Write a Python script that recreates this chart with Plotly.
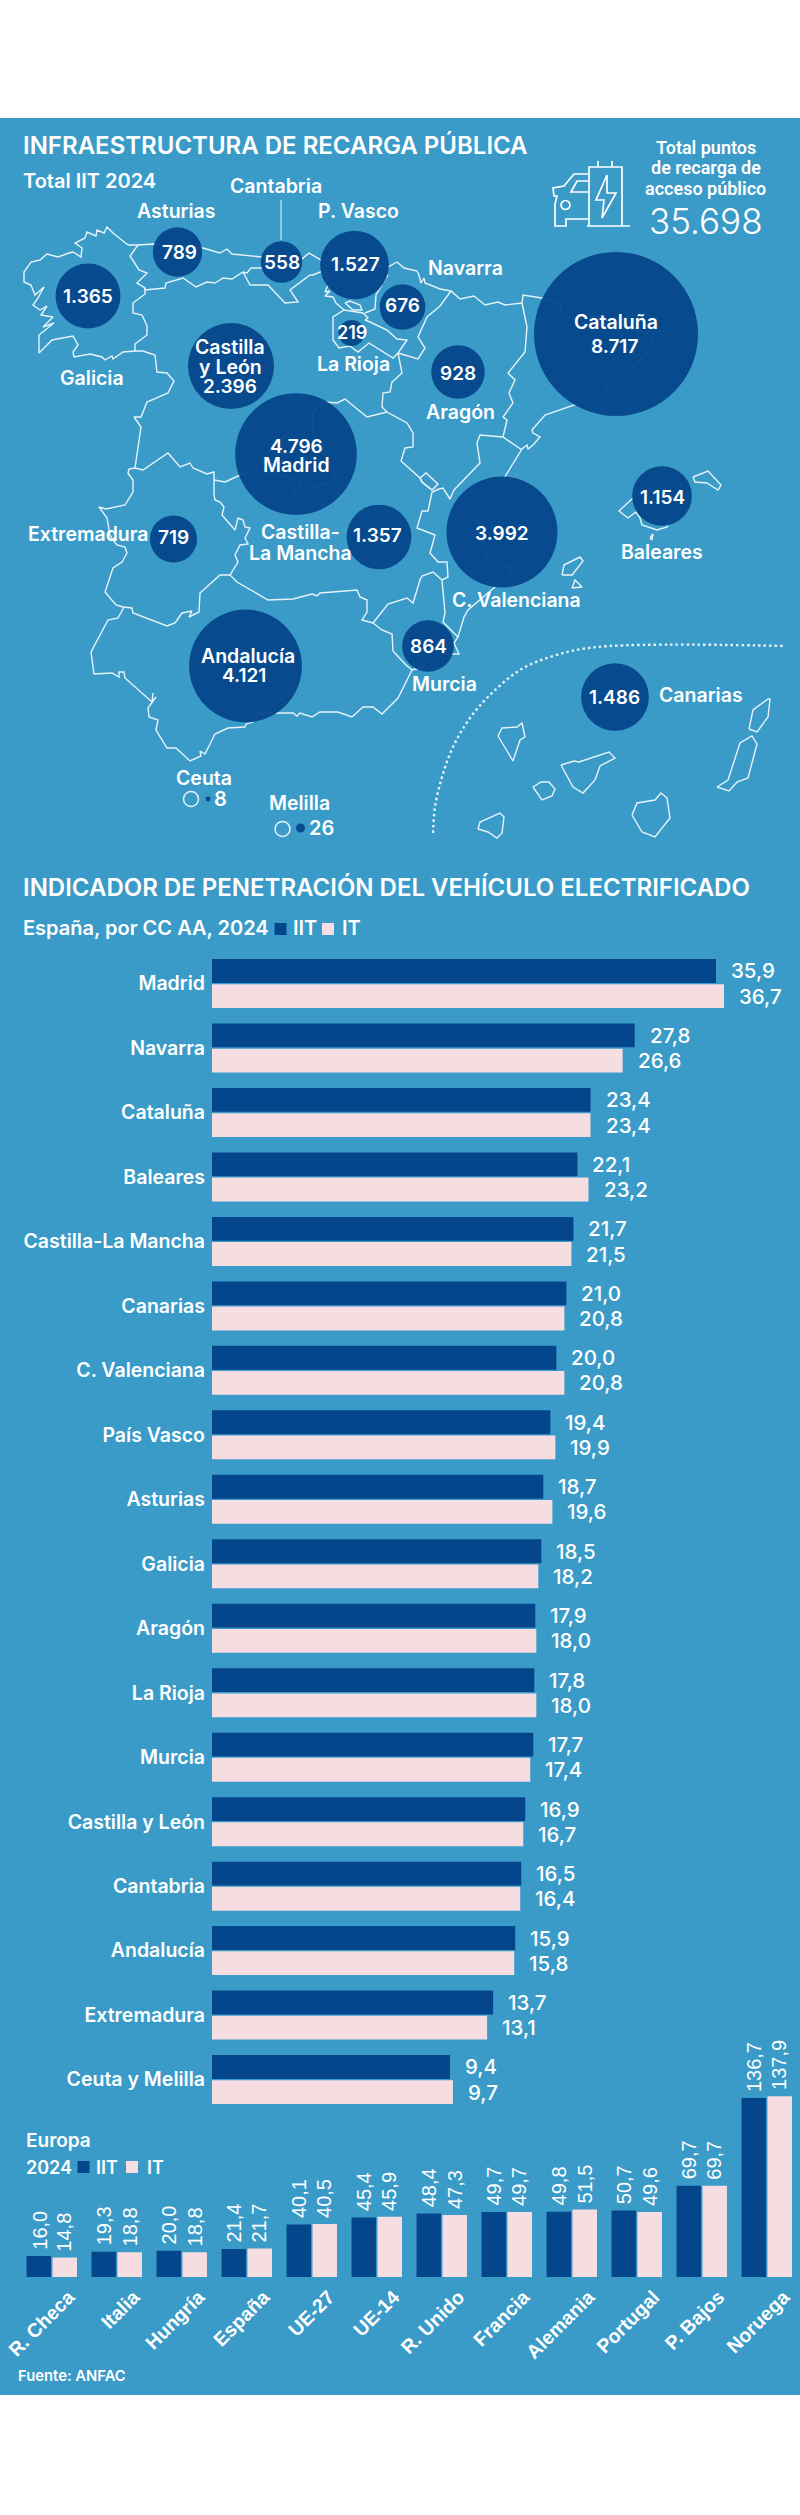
import plotly.graph_objects as go

W, H = 800, 2515

# colours
panel_blue = '#3a9bc8'
dark_blue = '#04468b'
pink = '#f5dde2'
line_white = '#e6f3f9'
FONT = 'Inter'
FONT_EU = 'Liberation Sans'

# bubbles on the map
regions = ['Galicia', 'Asturias', 'Cantabria', 'P. Vasco', 'Navarra', 'La Rioja', 'Cataluña', 'Aragón',
           'Castilla y León', 'Madrid', 'Extremadura', 'Castilla-La Mancha', 'C. Valenciana', 'Baleares',
           'Andalucía', 'Murcia', 'Canarias', 'Ceuta', 'Melilla']
points = [1365, 789, 558, 1527, 676, 219, 8717, 928, 2396, 4796, 719, 1357, 3992, 1154, 4121, 864, 1486, 8, 26]
map_x = [88, 177.5, 281.5, 354.5, 402.5, 351.5, 616, 458, 231, 296, 173.5, 379, 502, 662, 245.5, 428, 615, 208, 300.5]
map_y = [296, 252, 262, 265, 307, 333, 334, 372, 366, 454, 539, 537, 532, 496, 666, 646, 697, 799, 828]

# outlines
galicia = [(128, 245), (113, 233), (107, 227), (104, 233), (97, 230), (96, 236), (87, 232), (85, 238), (75, 243),
           (82, 248), (81, 257), (73, 252), (69, 253), (58, 257), (47, 254), (40, 260), (31, 262), (24, 272),
           (24, 282), (31, 285), (35, 295), (44, 287), (38, 298), (33, 305), (40, 310), (47, 306), (41, 315),
           (53, 317), (43, 327), (54, 323), (39, 335), (39, 353), (52, 340), (73, 336), (78, 345), (73, 352),
           (74, 357), (90, 354), (102, 357), (105, 360), (112, 356), (113, 359), (123, 352), (135, 351), (135, 344),
           (147, 335), (147, 326), (142, 315), (133, 313), (133, 303), (145, 294), (145, 288), (137, 283),
           (147, 273), (139, 270), (130, 256), (138, 245), (128, 245)]
north_east_coast = [(138, 245), (153, 244), (203, 248), (220, 253), (227, 249), (232, 254), (262, 257), (302, 259),
                    (309, 253), (321, 260), (388, 267), (397, 262), (404, 268), (417, 271), (419, 275), (421, 283),
                    (424, 278), (425, 283), (440, 289), (451, 291), (460, 299), (474, 296), (485, 305), (498, 302),
                    (505, 305), (522, 303), (523, 295), (542, 298), (560, 303), (563, 319), (573, 318), (590, 315),
                    (650, 335), (655, 347), (637, 363), (610, 382), (603, 395), (573, 405), (545, 415), (532, 430),
                    (533, 433), (540, 437), (533, 445), (528, 449), (527, 445), (522, 449), (506, 475), (478, 523),
                    (488, 558), (510, 568), (510, 575), (495, 587), (468, 610), (464, 617), (458, 637), (454, 643),
                    (459, 654), (440, 654), (420, 668), (412, 670)]
south_coast = [(412, 670), (398, 698), (382, 714), (373, 707), (363, 707), (352, 717), (338, 712), (320, 712),
               (312, 717), (300, 713), (297, 716), (293, 713), (277, 713), (258, 713), (253, 722), (246, 724),
               (245, 727), (228, 728), (215, 734), (205, 754), (200, 751), (201, 756), (190, 761), (176, 748),
               (167, 748), (156, 730), (158, 720), (149, 717), (148, 708), (156, 697), (152, 702), (153, 693),
               (152, 702), (125, 678), (124, 672), (119, 672), (119, 677), (112, 673), (94, 674), (91, 652),
               (108, 620), (118, 618), (124, 607)]
extremadura = [(135, 468), (129, 469), (128, 473), (133, 480), (133, 492), (125, 505), (106, 509), (99, 507),
               (107, 518), (110, 535), (113, 540), (117, 545), (125, 547), (127, 553), (122, 562), (113, 568),
               (105, 592), (116, 605), (123, 607), (132, 608), (133, 613), (167, 626), (175, 623), (182, 613),
               (192, 611), (189, 617), (199, 612), (200, 593), (220, 575), (230, 575), (238, 562), (235, 555),
               (240, 545), (248, 544), (245, 538), (250, 528), (245, 527), (243, 520), (238, 518), (235, 530),
               (222, 515), (224, 507), (220, 502), (215, 500), (214, 495), (214, 472), (207, 474), (193, 468),
               (190, 463), (180, 467), (168, 453), (153, 463), (143, 470), (135, 468)]
portugal_north = [(135, 351), (143, 351), (155, 355), (157, 372), (167, 373), (174, 381), (168, 393), (147, 402),
                  (141, 417), (134, 417), (141, 427), (136, 460), (135, 468)]
asturias_south = [(145, 288), (145, 290), (165, 288), (166, 283), (183, 278), (196, 287), (207, 282), (215, 283),
                  (223, 278), (232, 279), (243, 272), (247, 273), (251, 268), (262, 268)]
cantabria_south = [(243, 272), (250, 285), (268, 285), (285, 303), (298, 302), (290, 290), (310, 275), (313, 275),
                   (325, 270), (328, 285), (325, 292), (330, 291), (325, 296), (333, 297), (336, 303), (344, 310)]
basque_east = [(388, 275), (376, 295), (375, 309), (365, 313)]
rioja = [(344, 310), (333, 317), (333, 340), (339, 348), (350, 346), (358, 352), (369, 343), (393, 358), (398, 353),
         (407, 340), (397, 339), (387, 330), (370, 322), (365, 320), (368, 318), (363, 313), (344, 310)]
trevino = [(345, 303), (350, 301), (360, 305), (362, 310), (353, 310), (345, 303)]
navarra_east = [(451, 291), (440, 306), (427, 317), (418, 337), (425, 348), (418, 359), (398, 353)]
aragon_west = [(398, 353), (402, 373), (392, 382), (390, 392), (383, 393), (382, 407), (387, 412), (407, 423),
               (413, 433), (413, 447), (405, 448), (401, 461), (420, 478), (422, 482), (432, 490)]
castilla_east = [(325, 402), (337, 403), (345, 399), (367, 417), (387, 412)]
madrid = [(325, 402), (287, 433), (250, 472), (262, 472), (280, 475), (302, 482), (293, 495), (297, 497), (313, 487),
          (333, 482), (335, 473), (313, 433), (313, 413), (325, 402)]
castilla_link = [(214, 480), (225, 482), (238, 476), (250, 472)]
mancha_south = [(230, 575), (237, 582), (268, 600), (293, 599), (312, 594), (317, 596), (320, 593), (357, 590),
                (360, 597), (367, 600), (367, 612), (362, 620), (373, 623)]
murcia_west = [(373, 623), (382, 630), (392, 634), (393, 651), (405, 664), (412, 670)]
murcia_north = [(373, 623), (388, 604), (407, 598), (413, 603), (420, 580), (422, 576), (433, 572), (442, 580)]
murcia_east = [(442, 580), (445, 613), (443, 622), (458, 637)]
valencia_west = [(442, 580), (448, 577), (447, 562), (438, 562), (430, 553), (435, 535), (417, 528), (422, 511),
                 (428, 511), (432, 492), (439, 489), (443, 488), (450, 499), (454, 490), (480, 463), (477, 443),
                 (480, 435), (503, 437), (522, 450)]
ademuz = [(420, 478), (426, 473), (438, 484), (432, 490), (422, 482), (420, 478)]
cataluna_west = [(522, 303), (527, 327), (525, 352), (508, 373), (515, 380), (509, 393), (513, 403), (503, 417),
                 (507, 420), (503, 437)]
mallorca = [(628, 518), (619, 511), (633, 498), (660, 483), (677, 503), (667, 527), (657, 530), (642, 525),
            (640, 518), (636, 512), (628, 518)]
menorca = [(693, 477), (708, 471), (721, 485), (718, 490), (707, 483), (695, 482), (693, 477)]
ibiza = [(562, 575), (564, 565), (570, 562), (580, 557), (583, 561), (575, 572), (572, 575), (562, 575)]
formentera = [(572, 588), (575, 580), (582, 587), (572, 588)]
cabrera = [(650, 538), (653, 534), (652, 540), (650, 538)]
la_palma = [(498, 736), (502, 728), (517, 727), (522, 723), (525, 737), (520, 740), (513, 761), (498, 736)]
tenerife = [(561, 765), (574, 761), (579, 762), (595, 757), (609, 752), (615, 758), (600, 766), (595, 780),
            (583, 793), (573, 787), (561, 765)]
gomera = [(533, 787), (541, 782), (549, 782), (555, 789), (552, 796), (542, 800), (533, 787)]
hierro = [(478, 829), (480, 822), (500, 813), (504, 817), (502, 833), (497, 838), (488, 832), (478, 829)]
gran_canaria = [(632, 815), (637, 803), (655, 800), (661, 793), (667, 798), (670, 818), (655, 837), (642, 832),
                (632, 815)]
fuerteventura = [(717, 787), (728, 780), (740, 743), (752, 736), (757, 744), (748, 778), (737, 782), (729, 791),
                 (717, 787)]
lanzarote = [(749, 729), (753, 710), (768, 699), (770, 699), (768, 717), (757, 732), (749, 729)]
canary_arc = [(433, 833), (435, 807), (442, 777), (453, 747), (470, 718), (492, 693), (520, 670), (553, 656),
              (597, 647), (785, 646)]
outlines = [galicia, north_east_coast, south_coast, extremadura, portugal_north, asturias_south, cantabria_south,
            basque_east, rioja, trevino, navarra_east, aragon_west, castilla_east, madrid, castilla_link, mancha_south,
            murcia_west, murcia_north, murcia_east, valencia_west, ademuz, cataluna_west, mallorca, menorca, ibiza,
            formentera, cabrera, la_palma, tenerife, gomera, hierro, gran_canaria, fuerteventura, lanzarote]

# charger icon
icon_lines = [[(589, 226), (589, 167), (622, 167), (622, 226)], [(587, 226), (630, 226)], [(598, 161), (598, 167)],
              [(612, 161), (612, 167)], [(607, 175), (596, 200), (604, 200), (602, 218), (616, 193), (607, 193), (607, 175)],
              [(589, 174), (574, 174), (564, 186), (553, 188), (554, 196), (557, 196), (555, 204), (555, 226), (566, 226),
               (566, 219), (589, 219)], [(589, 181), (577, 181), (571, 192), (589, 192)]]

# penetration indicator, Spain
spain_labels = ['Madrid', 'Navarra', 'Cataluña', 'Baleares', 'Castilla-La Mancha', 'Canarias', 'C. Valenciana',
                'País Vasco', 'Asturias', 'Galicia', 'Aragón', 'La Rioja', 'Murcia', 'Castilla y León', 'Cantabria',
                'Andalucía', 'Extremadura', 'Ceuta y Melilla']
spain_iit = [35.9, 27.8, 23.4, 22.1, 21.7, 21.0, 20.0, 19.4, 18.7, 18.5, 17.9, 17.8, 17.7, 16.9, 16.5, 15.9, 13.7, 9.4]
spain_it = [36.7, 26.6, 23.4, 23.2, 21.5, 20.8, 20.8, 19.9, 19.6, 18.2, 18.0, 18.0, 17.4, 16.7, 16.4, 15.8, 13.1, 9.7]
spain_start = -14.3  # the bars do not start at zero in the original

# penetration indicator, Europe
europe_labels = ['R. Checa', 'Italia', 'Hungría', 'España', 'UE-27', 'UE-14', 'R. Unido', 'Francia', 'Alemania',
                 'Portugal', 'P. Bajos', 'Noruega']
europe_iit = [16.0, 19.3, 20.0, 21.4, 40.1, 45.4, 48.4, 49.7, 49.8, 50.7, 69.7, 136.7]
europe_it = [14.8, 18.8, 18.8, 21.7, 40.5, 45.9, 47.3, 49.7, 51.5, 49.6, 69.7, 137.9]

# free text: text, x, y, size
map_texts = [('Asturias', 176.5, 211, 19.5), ('Cantabria', 275.5, 186, 19.5), ('P. Vasco', 358.5, 211, 19.5),
             ('Navarra', 465, 268, 19.5), ('Galicia', 92, 378, 19.5), ('La Rioja', 353.5, 364, 19.5),
             ('Aragón', 460.5, 412, 19.5), ('Extremadura', 88.5, 534, 19.5), ('Castilla-', 300, 532, 19.5),
             ('La Mancha', 300, 553, 19.5), ('C. Valenciana', 516, 600, 19.5), ('Baleares', 662, 552, 19.5),
             ('Murcia', 444, 684, 19.5), ('Canarias', 701, 695, 19.5), ('Ceuta', 204, 778, 19.5), ('Melilla', 299.5, 803, 19.5),
             ('1.365', 88, 296, 19), ('789', 179, 252, 19), ('558', 281.5, 262, 19), ('1.527', 355.5, 264, 19), ('676', 402.5, 305, 19),
             ('219', 351.5, 332, 18), ('Cataluña', 616, 322, 19.5), ('8.717', 614, 346, 19), ('928', 458, 373, 19),
             ('Castilla', 230, 347, 19.5), ('y León', 230, 367, 19.5), ('2.396', 230, 386, 19), ('4.796', 296, 446, 19),
             ('Madrid', 296, 465, 19.5), ('719', 173.5, 537, 19), ('1.357', 377, 535, 19), ('3.992', 502, 533, 19),
             ('1.154', 662, 497, 19), ('Andalucía', 247.5, 656, 19.5), ('4.121', 244, 675, 19), ('864', 428, 646, 19),
             ('1.486', 614, 697, 19), ('8', 220.5, 799, 20), ('26', 321, 828, 20)]
box_texts = [('Total puntos', 147), ('de recarga de', 167), ('acceso público', 188)]
left_texts = [('INFRAESTRUCTURA DE RECARGA PÚBLICA', 21, 145, 24), ('Total IIT 2024', 21, 181, 20),
              ('INDICADOR DE PENETRACIÓN DEL VEHÍCULO ELECTRIFICADO', 21, 887, 24),
              ('España, por CC AA, 2024', 21, 928, 20), ('IIT', 291, 928, 20), ('IT', 340, 928, 20),
              ('Europa', 24, 2140, 19), ('2024', 24, 2167, 18), ('IIT', 94, 2167, 18), ('IT', 145, 2167, 18),
              ('Fuente: ANFAC', 16, 2376, 14.8)]


def comma(v):
    return f'{v:.1f}'.replace('.', ',')


def split_xy(paths):
    xs, ys = [], []
    for path in paths:
        xs += [p[0] for p in path] + [None]
        ys += [p[1] for p in path] + [None]
    return xs, ys


fig = go.Figure()

# map
xs, ys = split_xy(outlines)
fig.add_trace(go.Scatter(x=xs, y=ys, mode='lines', line=dict(color=line_white, width=1.4), hoverinfo='skip'))
xs, ys = split_xy([canary_arc])
fig.add_trace(go.Scatter(x=xs, y=ys, mode='lines', hoverinfo='skip',
                         line=dict(color=line_white, width=2.4, dash='2.5px,3px', shape='spline')))
xs, ys = split_xy([[(281, 200), (281, 240)]])
fig.add_trace(go.Scatter(x=xs, y=ys, mode='lines', line=dict(color=line_white, width=1), hoverinfo='skip'))
xs, ys = split_xy(icon_lines)
fig.add_trace(go.Scatter(x=xs, y=ys, mode='lines', line=dict(color='white', width=1.7), hoverinfo='skip'))
fig.add_trace(go.Scatter(x=[565.5], y=[205], mode='markers', hoverinfo='skip',
                         marker=dict(symbol='circle-open', size=9, color='white', line=dict(color='white', width=1.7))))
fig.add_trace(go.Scatter(x=[191, 282.5], y=[799, 829], mode='markers', hoverinfo='skip',
                         marker=dict(symbol='circle-open', size=15, color=line_white, line=dict(color=line_white, width=1.5))))
fig.add_trace(go.Scatter(x=map_x, y=map_y, mode='markers', text=regions, customdata=points,
                         hovertemplate='%{text}: %{customdata}<extra></extra>',
                         marker=dict(size=points, sizemode='area', sizeref=2 * 8717 / 164 ** 2, sizemin=1,
                                     color=dark_blue, opacity=0.95, line=dict(width=0))))

# legend squares
fig.add_trace(go.Scatter(x=[280.5, 328, 83.5, 132], y=[929, 929, 2167, 2167], mode='markers', hoverinfo='skip',
                         marker=dict(symbol='square', size=12, color=[dark_blue, pink, dark_blue, pink])))

# Spain bars
fig.add_trace(go.Bar(y=spain_labels, x=[v - spain_start for v in spain_iit], base=spain_start, orientation='h',
                     width=0.37, offset=-0.38, marker=dict(color=dark_blue, line=dict(width=0)), name='IIT',
                     xaxis='x2', yaxis='y2'))
fig.add_trace(go.Bar(y=spain_labels, x=[v - spain_start for v in spain_it], base=spain_start, orientation='h',
                     width=0.37, offset=0.01, marker=dict(color=pink, line=dict(width=0)), name='IT',
                     xaxis='x2', yaxis='y2'))

# Europe bars
fig.add_trace(go.Bar(x=europe_labels, y=europe_iit, width=0.377, offset=-0.388,
                     marker=dict(color=dark_blue, line=dict(width=0)), name='IIT', xaxis='x3', yaxis='y3'))
fig.add_trace(go.Bar(x=europe_labels, y=europe_it, width=0.377, offset=0.011,
                     marker=dict(color=pink, line=dict(width=0)), name='IT', xaxis='x3', yaxis='y3'))

notes = []
for text, x, y, size in map_texts:
    notes.append(dict(text=text, x=x, y=y, xref='x', yref='y', xanchor='center', yanchor='middle', showarrow=False,
                      font=dict(family=FONT, size=size, color='white', weight=600)))
for text, y in box_texts:
    notes.append(dict(text=text, x=705.5, y=y, xref='x', yref='y', xanchor='center', yanchor='middle', showarrow=False,
                      font=dict(family='Roboto', size=18, color='white', weight=600)))
for text, x, y, size in left_texts:
    notes.append(dict(text=text, x=x, y=y, xref='x', yref='y', xanchor='left', yanchor='middle', showarrow=False,
                      font=dict(family=FONT, size=size, color='white', weight=600)))
notes.append(dict(text='35.698', x=705.5, y=221, xref='x', yref='y', showarrow=False,
                  font=dict(family=FONT, size=35, color='white', weight=300)))
for name, a, b in zip(spain_labels, spain_iit, spain_it):
    for v, shift in ((a, 12.6), (b, -12.6)):
        notes.append(dict(text=comma(v), x=v, y=name, xref='x2', yref='y2', xanchor='left', yanchor='middle',
                          xshift=13, yshift=shift, showarrow=False,
                          font=dict(family=FONT, size=20.5, color='white', weight=500)))
for i, name in enumerate(europe_labels):
    for v, shift in ((europe_iit[i], -12.6), (europe_it[i], 12.8)):
        notes.append(dict(text=comma(v), x=name, y=v, xref='x3', yref='y3', xanchor='center', yanchor='bottom',
                          xshift=shift, yshift=4, textangle=-90, showarrow=False,
                          font=dict(family=FONT_EU, size=20, color='white')))

fig.update_layout(
    width=W, height=H, margin=dict(l=0, r=0, t=0, b=0, autoexpand=False), showlegend=False,
    paper_bgcolor='white', plot_bgcolor='rgba(0,0,0,0)',
    shapes=[dict(type='rect', xref='paper', yref='y', x0=0, x1=1, y0=118, y1=2395,
                 fillcolor=panel_blue, line=dict(width=0), layer='below')],
    annotations=notes,
    xaxis=dict(domain=[0, 1], range=[0, W], visible=False, fixedrange=True, automargin=False),
    yaxis=dict(domain=[0, 1], range=[H, 0], visible=False, fixedrange=True, automargin=False),
    xaxis2=dict(domain=[212 / W, 1], range=[spain_start, spain_start + 588 / 10.04], visible=False, anchor='y2',
                automargin=False),
    yaxis2=dict(domain=[1 - 2111.8 / H, 1 - 951.3 / H], range=[17.5, -0.5], type='category', anchor='x2',
                categoryorder='array', categoryarray=spain_labels, showgrid=False, zeroline=False, showline=False,
                automargin=False, ticks='', ticklabelstandoff=6,
                tickfont=dict(family=FONT, size=19.5, color='white', weight=600)),
    xaxis3=dict(domain=[19.25 / W, 799.25 / W], range=[-0.5, 11.5], type='category', anchor='y3',
                categoryorder='array', categoryarray=europe_labels, showgrid=False, zeroline=False, showline=False,
                automargin=False, ticks='', tickangle=-45, ticklabelshift=17, ticklabelstandoff=4,
                tickfont=dict(family=FONT_EU, size=19.5, color='white', weight=700)),
    yaxis3=dict(domain=[(H - 2277) / H, (H - 2277 + 183.4) / H], range=[0, 140], visible=False, anchor='x3',
                automargin=False),
)

# the page's default body margin would push the figure off the window
fig.write_html('out.html', config={'displayModeBar': False}, post_script="document.body.style.margin='0';")
